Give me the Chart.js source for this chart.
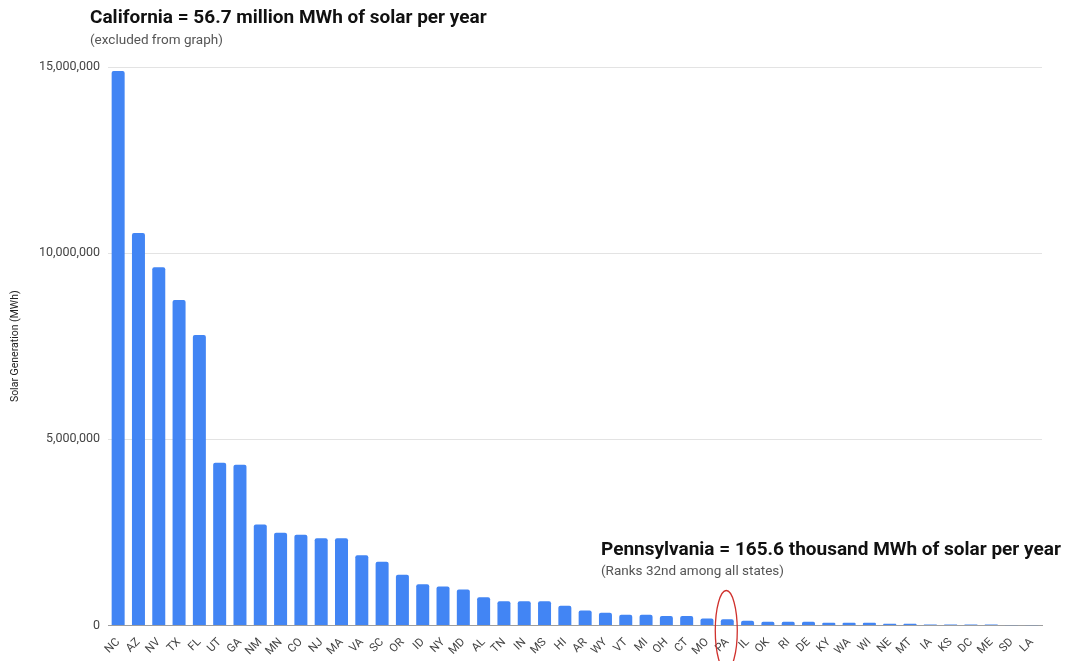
<!DOCTYPE html>
<html lang="en">
<head>
  <meta charset="UTF-8">
  <title>Solar generation by state</title>
  <script src="https://cdn.jsdelivr.net/npm/chart.js"></script>
  <style>
    html, body { margin: 0; padding: 0; background: #fff; }
    body { font-family: Roboto, 'Noto Sans', sans-serif; }
    .wrap { position: relative; width: 1065px; height: 661px; }
    .note { position: absolute; white-space: nowrap; }
    .note h2 { margin: 0; font-weight: 700; color: #111; }
    .note p { margin: 0; color: #555; font-size: 13.5px; }
    #ca { left: 90px; top: 5px; }
    #ca h2 { font-size: 19px; }
    #ca p { margin-top: 3px; }
    #pa { left: 601px; top: 537px; }
    #pa h2 { font-size: 19px; }
    #pa p { margin-top: 2px; }
  </style>
</head>
<body>
<div class="wrap">
  <canvas id="solarChart" width="1065" height="661"></canvas>
  <div class="note" id="ca">
    <h2>California = 56.7 million MWh of solar per year</h2>
    <p>(excluded from graph)</p>
  </div>
  <div class="note" id="pa">
    <h2>Pennsylvania = 165.6 thousand MWh of solar per year</h2>
    <p>(Ranks 32nd among all states)</p>
  </div>
</div>

<script>
// states ranked by solar generation (California left out)
const states = ["NC", "AZ", "NV", "TX", "FL", "UT", "GA", "NM", "MN", "CO", "NJ", "MA", "VA", "SC", "OR",
  "ID", "NY", "MD", "AL", "TN", "IN", "MS", "HI", "AR", "WY", "VT", "MI", "OH", "CT", "MO", "PA",
  "IL", "OK", "RI", "DE", "KY", "WA", "WI", "NE", "MT", "IA", "KS", "DC", "ME", "SD", "LA"];

// MWh per year
const generation = [14890000, 10540000, 9620000, 8740000, 7800000, 4370000, 4320000, 2710000, 2490000,
  2440000, 2340000, 2340000, 1890000, 1710000, 1360000, 1110000, 1050000, 970000, 760000, 650000,
  650000, 650000, 530000, 400000, 340000, 290000, 290000, 255000, 255000, 190000, 165600,
  130000, 100000, 100000, 100000, 75000, 75000, 75000, 50000, 50000, 30000, 30000, 30000, 30000,
  6000, 5000];

const yTicks = [0, 5000000, 10000000, 15000000];
const highlight = "PA";

const ellipsePlugin = {
  id: 'paEllipse',
  afterDraw(chart) {
    const x = chart.scales.x.getPixelForValue(states.indexOf(highlight));
    const y = chart.chartArea.bottom + 5;
    const ctx = chart.ctx;
    ctx.save();
    ctx.beginPath();
    ctx.ellipse(x - 1, y, 11, 40, 0, 0, Math.PI * 2);
    ctx.strokeStyle = '#d0312d';
    ctx.lineWidth = 1.3;
    ctx.stroke();
    ctx.restore();
  }
};

new Chart(document.getElementById("solarChart"), {
  type: 'bar',
  data: {
    labels: states,
    datasets: [{
      label: 'Solar Generation (MWh)',
      data: generation,
      backgroundColor: '#4285f4',
      borderRadius: 2,
      borderSkipped: 'start',
      barPercentage: 0.64,
      categoryPercentage: 1
    }]
  },
  options: {
    responsive: false,
    animation: false,
    events: [],
    layout: { padding: { top: 67, right: 23, bottom: 0, left: 0 } },
    plugins: {
      legend: { display: false },
      tooltip: { enabled: false }
    },
    scales: {
      x: {
        grid: { display: false },
        border: { color: '#9e9e9e' },
        ticks: {
          color: '#444',
          font: { family: 'Roboto', size: 11.5 },
          maxRotation: 45,
          minRotation: 45,
          autoSkip: false,
          padding: 2
        },
        afterFit(scale) { scale.height = 35.5; }
      },
      y: {
        min: 0,
        max: 15000000,
        afterBuildTicks(scale) { scale.ticks = yTicks.map(v => ({ value: v })); },
        border: { display: false },
        grid: {
          color: ctx => ctx.tick.value === 0 ? '#9e9e9e' : '#e3e3e3',
          drawTicks: false
        },
        ticks: {
          color: '#444',
          font: { family: 'Roboto', size: 12.5 },
          padding: 8,
          callback: v => v.toLocaleString('en-US')
        },
        title: {
          display: true,
          text: 'Solar Generation (MWh)',
          color: '#222',
          font: { family: 'Roboto', size: 10.5 },
          padding: { top: 9, bottom: 0 }
        },
        afterFit(scale) { scale.width = 108; }
      }
    }
  },
  plugins: [ellipsePlugin]
});
</script>
</body>
</html>
